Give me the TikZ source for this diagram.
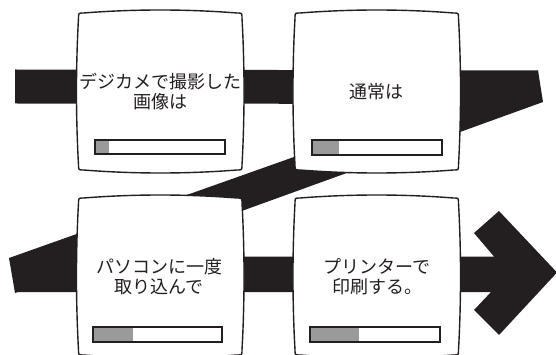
\documentclass[tikz,border=0pt]{standalone}
\usepackage{fontspec}
\newfontfamily\jpfont{Noto Sans CJK JP}
\definecolor{ink}{HTML}{231F20}
\definecolor{barfill}{HTML}{9A9A9A}
\tikzset{
  ribbon/.style={fill=ink, draw=none},
  card/.style={fill=white, draw=ink, line width=1.4pt},
  barbox/.style={draw=ink, line width=1.3pt},
  barpart/.style={fill=barfill},
  lbl/.style={align=center, text=ink, inner sep=0pt, font=\jpfont\fontsize{18}{20}\selectfont}
}
\newcommand\mycard[4]{%
  \pgfmathsetmacro\cxa{#1+5}\pgfmathsetmacro\cxb{#3-5}%
  \pgfmathsetmacro\cya{#2+5}\pgfmathsetmacro\cyb{#4-5}%
  \pgfmathsetmacro\cxp{\cxa+(\cxb-\cxa)/3}\pgfmathsetmacro\cxq{\cxb-(\cxb-\cxa)/3}%
  \pgfmathsetmacro\cyp{\cya+(\cyb-\cya)/3}\pgfmathsetmacro\cyq{\cyb-(\cyb-\cya)/3}%
  \pgfmathsetmacro\tt{#2-4}\pgfmathsetmacro\bb{#4+4}%
  \pgfmathsetmacro\ll{#1-2.7}\pgfmathsetmacro\rr{#3+2.7}%
  \path[card] (\cxa,#2) .. controls (\cxp,\tt) and (\cxq,\tt) .. (\cxb,#2)
    .. controls (#3,#2) .. (#3,\cya)
    .. controls (\rr,\cyp) and (\rr,\cyq) .. (#3,\cyb)
    .. controls (#3,#4) .. (\cxb,#4)
    .. controls (\cxq,\bb) and (\cxp,\bb) .. (\cxa,#4)
    .. controls (#1,#4) .. (#1,\cyb)
    .. controls (\ll,\cyq) and (\ll,\cyp) .. (#1,\cya)
    .. controls (#1,#2) .. (\cxa,#2) -- cycle;%
}
\begin{document}
\begin{tikzpicture}[x=1pt,y=-1pt]
\useasboundingbox (0,0) rectangle (556,355);
% ribbon
\path[ribbon] (15,69.5) -- (538,70.5) -- (538,104) -- (15,103.5) -- cycle;
\path[ribbon] (538,70.5) -- (543,102) -- (15,293) -- (9,258) -- cycle;
\path[ribbon] (15,256.5) -- (494,256.5) -- (474,233) -- (499,211) -- (557,272.5)
  -- (499,335) -- (474,310) -- (491,292) -- (15,292) -- cycle;
% cards
\mycard{78.5}{13}{242}{170}
\mycard{295}{13}{458.5}{170}
\mycard{78.5}{198}{242}{355}
\mycard{295}{198}{458.5}{355}
% progress bars
\fill[barpart] (95,140) rectangle (109,154);
\draw[barbox] (95,140) rectangle (225,154);
\fill[barpart] (312,140) rectangle (339,155);
\draw[barbox] (312,140) rectangle (442,155);
\fill[barpart] (93,327) rectangle (133,342);
\draw[barbox] (93,327) rectangle (222,342);
\fill[barpart] (310,327) rectangle (359,342);
\draw[barbox] (310,327) rectangle (440,342);
% labels
\node[lbl] (t1) at (160,92) {デジカメで撮影した\\画像は};
\node[lbl] (t2) at (376,92) {通常は};
\node[lbl] (t3) at (159,277) {パソコンに一度\\取り込んで};
\node[lbl] (t4) at (377,277) {プリンターで\\印刷する。};
\end{tikzpicture}
\end{document}
